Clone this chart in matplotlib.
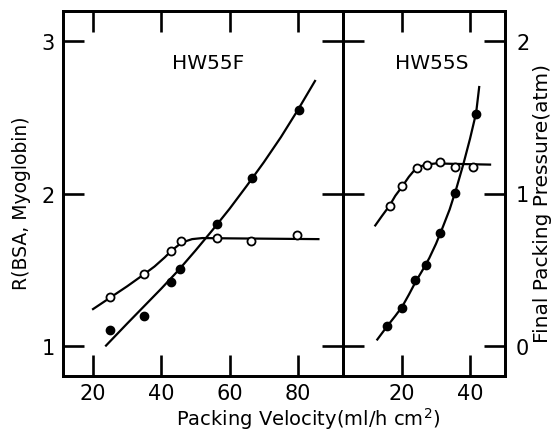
import matplotlib
matplotlib.use("Agg")
import matplotlib.pyplot as plt

# ---- data ----
# HW55F panel: packing velocity, resolution R (open), final pressure (filled)
f_vel_R = [25, 35, 42.8, 45.9, 56.2, 66.4, 79.7]
f_R = [1.32, 1.47, 1.625, 1.69, 1.705, 1.685, 1.73]
f_vel_P = [25, 35, 42.8, 45.6, 56.2, 66.6, 80.3]
f_P = [0.10, 0.195, 0.42, 0.505, 0.80, 1.105, 1.55]
# hand-drawn fitted curves (HW55F)
f_curveR_x = [20, 25, 30, 35, 38, 41, 43, 45, 47, 49, 52, 60, 86]
f_curveR_y = [1.24, 1.315, 1.39, 1.47, 1.52, 1.58, 1.625, 1.66, 1.685, 1.70, 1.707, 1.705, 1.70]
f_curveP_x = [23.8, 30, 35, 40, 45, 50, 55, 60, 65, 70, 75, 80, 85]
f_curveP_y = [0.0, 0.145, 0.26, 0.375, 0.495, 0.625, 0.76, 0.90, 1.05, 1.205, 1.37, 1.55, 1.74]

# HW55S panel
s_vel_R = [16.3, 19.9, 24.3, 27.3, 31.2, 35.6, 41.0]
s_R = [1.92, 2.047, 2.167, 2.185, 2.207, 2.172, 2.172]
s_vel_P = [15.7, 19.9, 23.8, 27.1, 31.2, 35.6, 41.8]
s_P = [0.13, 0.25, 0.43, 0.53, 0.74, 1.003, 1.52]
s_curveR_x = [12.1, 14, 16.3, 18, 20, 22, 23.5, 25, 27, 30, 35, 45.9]
s_curveR_y = [1.79, 1.85, 1.92, 1.985, 2.045, 2.11, 2.15, 2.175, 2.19, 2.198, 2.195, 2.19]
s_curveP_x = [12.7, 15.7, 18, 20, 22, 24, 26, 28, 30, 32, 34, 36, 38, 40, 41.8, 42.7]
s_curveP_y = [0.04, 0.13, 0.195, 0.255, 0.335, 0.42, 0.495, 0.575, 0.67, 0.78, 0.895, 1.035, 1.19, 1.36, 1.53, 1.70]

x_ticks_F = [20, 40, 60, 80]
x_ticks_S = [20, 40]
R_ticks = [1, 2, 3]
P_ticks = [0, 1, 2]

W, H = 559, 431
fig = plt.figure(figsize=(W / 100, H / 100), dpi=100)
L, R_, S, T, B = 63, 343, 505, 12, 377
ax1 = fig.add_axes([L / W, 1 - B / H, (R_ - L) / W, (B - T) / H])
ax2 = fig.add_axes([R_ / W, 1 - B / H, (S - R_) / W, (B - T) / H])

RLIM = (0.8, 3.2)
PLIM = (-0.2, 2.2)
fs_tick = 15
lw_sp = 2.0

ax1t = ax1.twinx()
ax2t = ax2.twinx()

for ax in (ax1, ax2, ax1t, ax2t):
    ax.set_ylim(*RLIM if ax in (ax1, ax2) else PLIM)
    for sp in ax.spines.values():
        sp.set_linewidth(lw_sp)
    ax.patch.set_visible(False)

ax1.set_xlim(11.2, 93.2)
ax2.set_xlim(2.6, 50.3)

line_kw = dict(color="black", lw=1.6)
open_kw = dict(ls="none", marker="o", ms=5.8, mfc="white", mec="black", mew=1.3)
fill_kw = dict(ls="none", marker="o", ms=6, mfc="black", mec="black")

# left panel
ax1.plot(f_curveR_x, f_curveR_y, **line_kw)
ax1.plot(f_vel_R, f_R, **open_kw, zorder=3)
ax1t.plot(f_curveP_x, f_curveP_y, **line_kw)
ax1t.plot(f_vel_P, f_P, **fill_kw, zorder=3)
# right panel
ax2.plot(s_curveR_x, s_curveR_y, **line_kw)
ax2.plot(s_vel_R, s_R, **open_kw, zorder=3)
ax2t.plot(s_curveP_x, s_curveP_y, **line_kw)
ax2t.plot(s_vel_P, s_P, **fill_kw, zorder=3)

# ticks
ax1.set_xticks(x_ticks_F)
ax2.set_xticks(x_ticks_S)
ax1.set_yticks(R_ticks)
ax2.set_yticks(R_ticks)
ax1t.set_yticks(P_ticks)
ax2t.set_yticks(P_ticks)

tk = dict(direction="in", length=15, width=1.9, labelsize=fs_tick)
ax1.tick_params(axis="x", top=True, bottom=True, pad=5, **tk)
ax2.tick_params(axis="x", top=True, bottom=True, pad=5, **tk)
ax1.tick_params(axis="y", left=True, right=True, labelleft=True, labelright=False, pad=6, **tk)
ax2.tick_params(axis="y", left=True, right=False, labelleft=False, labelright=False, **tk)
ax1t.tick_params(axis="y", left=False, right=False, labelleft=False, labelright=False)
ax2t.tick_params(axis="y", left=False, right=True, labelleft=False, labelright=True, pad=8, **tk)

ax1.text(0.52, 0.86, "HW55F", transform=ax1.transAxes, ha="center", va="center", fontsize=14.5)
ax2.text(0.55, 0.86, "HW55S", transform=ax2.transAxes, ha="center", va="center", fontsize=14.5)

fig.text(22 / W, 1 - 203 / H, "R(BSA, Myoglobin)", rotation=90, ha="center", va="center", fontsize=13.5)
fig.text(543 / W, 1 - 204 / H, "Final Packing Pressure(atm)", rotation=90, ha="center", va="center", fontsize=14.5)
fig.text(308 / W, 1 - 426 / H, "Packing Velocity(ml/h cm$^2$)", ha="center", va="baseline", fontsize=14)

fig.savefig("out.png", dpi=100)
